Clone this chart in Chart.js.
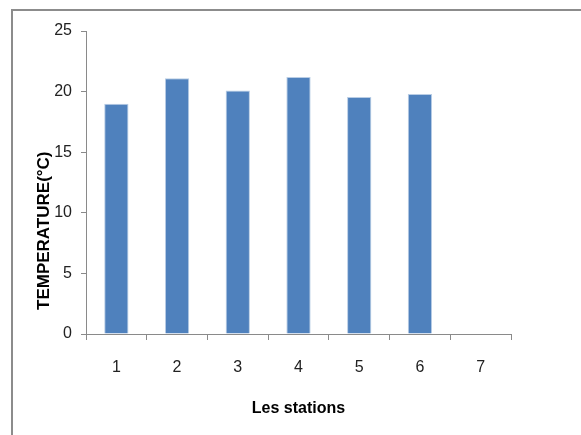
<!DOCTYPE html>
<html>
<head>
<meta charset="utf-8">
<script src="https://cdn.jsdelivr.net/npm/chart.js@4.4.1/dist/chart.umd.min.js"></script>
<style>
    html, body { margin: 0; padding: 0; background: #fff; overflow: hidden; }
    #wrap { position: absolute; left: 0; top: 0; width: 581px; height: 435px; }
</style>
</head>
<body>
<div id="wrap"><canvas id="temp_chart" width="581" height="435"></canvas></div>
<script>
// stations and measured temperature (°C)
const stations = ['1', '2', '3', '4', '5', '6', '7'];
const temperatures = [19.0, 21.1, 20.1, 21.2, 19.55, 19.8, null];
const yTicks = [0, 5, 10, 15, 20, 25];

const axisColor = '#8a8a8a';
const labelFont = "'Liberation Sans Narrow', 'Liberation Sans', sans-serif";

// grey frame of the chart object: only its left and top edges show
const framePlugin = {
    id: 'frame',
    beforeDraw(chart) {
        const ctx = chart.ctx;
        ctx.save();
        ctx.strokeStyle = '#8c8c8c';
        ctx.lineWidth = 2;
        ctx.beginPath();
        ctx.moveTo(12, chart.height + 5);
        ctx.lineTo(12, 10);
        ctx.lineTo(chart.width + 5, 10);
        ctx.stroke();
        ctx.restore();
    }
};

// y title sits low on the axis in the original, so it is drawn by hand
const yTitlePlugin = {
    id: 'yTitle',
    afterDraw(chart) {
        const ctx = chart.ctx;
        ctx.save();
        ctx.translate(44, chart.chartArea.bottom - 24);
        ctx.rotate(-Math.PI / 2);
        ctx.font = "bold 17px 'Liberation Sans', sans-serif";
        ctx.fillStyle = '#000';
        ctx.textAlign = 'left';
        ctx.textBaseline = 'middle';
        ctx.fillText('TEMPERATURE(°C)', 0, 0);
        ctx.restore();
    }
};

const ctx = document.getElementById('temp_chart').getContext('2d');

new Chart(ctx, {
    type: 'bar',
    data: {
        labels: stations,
        datasets: [{
            data: temperatures,
            backgroundColor: '#4f81bd',
            borderColor: '#b9cde5',
            borderWidth: 1,
            barPercentage: 0.4,
            categoryPercentage: 1.0
        }]
    },
    options: {
        responsive: false,
        animation: false,
        layout: { padding: { left: 0, top: 31, right: 70, bottom: 0 } },
        plugins: {
            legend: { display: false },
            tooltip: { enabled: false }
        },
        scales: {
            x: {
                grid: {
                    offset: true,
                    drawOnChartArea: false,
                    drawTicks: true,
                    tickLength: 6,
                    color: axisColor
                },
                border: { color: axisColor, width: 1 },
                ticks: {
                    color: '#222',
                    padding: 18,
                    font: { family: labelFont, size: 16 }
                },
                title: {
                    display: true,
                    text: 'Les stations',
                    color: '#000',
                    font: { family: labelFont, size: 16, weight: 'bold' },
                    padding: { top: 0, bottom: 17 }
                },
                afterFit(scale) { scale.height = 101; }
            },
            y: {
                min: 0,
                max: 25,
                afterBuildTicks(scale) {
                    scale.ticks = yTicks.map(v => ({ value: v }));
                },
                grid: {
                    drawOnChartArea: false,
                    drawTicks: true,
                    tickLength: 5,
                    color: axisColor
                },
                border: { color: axisColor, width: 1 },
                ticks: {
                    color: '#222',
                    padding: 9,
                    font: { family: labelFont, size: 16 }
                },
                afterFit(scale) { scale.width = 86; }
            }
        }
    },
    plugins: [framePlugin, yTitlePlugin]
});
</script>
</body>
</html>
